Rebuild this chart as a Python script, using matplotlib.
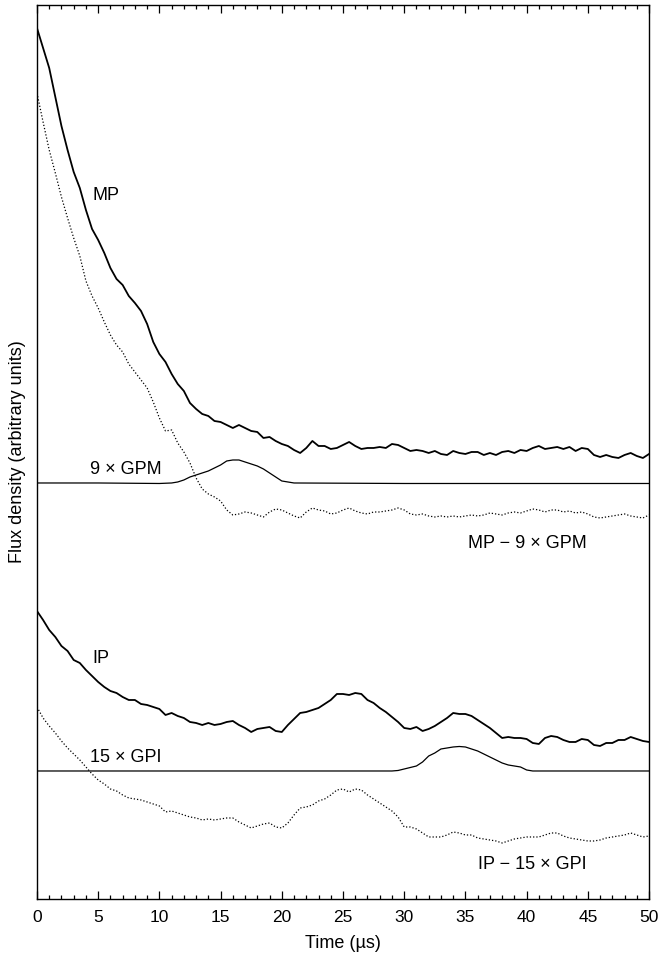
import numpy as np
import matplotlib
matplotlib.use('Agg')
import matplotlib.pyplot as plt
from matplotlib.ticker import MultipleLocator, NullLocator

plt.rcParams['font.family'] = ['Liberation Sans', 'DejaVu Sans']
plt.rcParams['font.size'] = 13

# time grid of the noisy traces, 0.5 us steps
t_trace = np.arange(0, 50.5, 0.5)

# flux density, arbitrary units (traces are stacked with offsets)
mp = [871, 851, 831, 802, 773, 749, 727, 711, 689, 670,
      659, 646, 631, 620, 614, 603, 596, 588, 575, 557,
      545, 537, 525, 515, 508, 496, 490, 485, 483, 478,
      477, 474, 471, 474, 471, 468, 467, 461, 462, 458,
      455, 453, 449, 446, 451, 458, 453, 453, 450, 451,
      454, 457, 453, 450, 451, 451, 452, 451, 455, 454,
      451, 448, 449, 448, 446, 448, 445, 444, 448, 446,
      445, 447, 447, 444, 446, 444, 447, 448, 446, 449,
      448, 451, 453, 450, 451, 452, 450, 452, 448, 451,
      450, 444, 442, 444, 442, 441, 444, 446, 443, 441,
      445]

mp_minus_gpm = [806, 777, 749, 726, 702, 681, 661, 643, 618, 603,
                591, 577, 564, 554, 547, 535, 527, 519, 511, 497,
                481, 468, 469, 456, 447, 436, 421, 410, 405, 402,
                398, 389, 384, 385, 387, 386, 384, 382, 387, 390,
                389, 386, 383, 381, 387, 391, 389, 388, 385, 386,
                389, 391, 388, 386, 385, 387, 387, 388, 389, 391,
                389, 385, 384, 385, 383, 382, 383, 382, 383, 382,
                383, 384, 383, 384, 386, 385, 384, 386, 387, 386,
                388, 390, 389, 387, 389, 389, 387, 388, 386, 387,
                385, 382, 381, 382, 383, 384, 385, 383, 382, 381,
                384]

ip = [288, 279, 269, 262, 253, 248, 239, 236, 229, 223,
      217, 212, 208, 206, 202, 199, 199, 195, 194, 192,
      190, 184, 186, 183, 181, 177, 176, 174, 176, 174,
      175, 177, 178, 174, 171, 167, 170, 171, 172, 168,
      167, 174, 180, 186, 187, 189, 191, 195, 199, 205,
      205, 204, 206, 205, 199, 196, 191, 187, 182, 177,
      171, 170, 172, 168, 170, 173, 177, 181, 186, 185,
      185, 183, 179, 175, 171, 166, 161, 162, 161, 161,
      160, 156, 155, 161, 163, 162, 159, 157, 157, 160,
      159, 154, 153, 156, 156, 159, 159, 162, 160, 158,
      157]

ip_minus_gpi = [192, 181, 173, 166, 158, 151, 145, 139, 132, 125,
                119, 115, 110, 108, 104, 101, 100, 99, 97, 95,
                93, 87, 88, 86, 84, 82, 81, 79, 80, 79,
                80, 81, 81, 77, 74, 71, 73, 75, 76, 72,
                71, 76, 84, 91, 92, 94, 98, 100, 104, 109,
                110, 107, 110, 109, 104, 100, 96, 92, 88, 82,
                72, 72, 70, 66, 62, 62, 62, 64, 67, 66,
                64, 64, 61, 60, 59, 58, 56, 58, 60, 61,
                62, 62, 62, 64, 66, 66, 63, 61, 60, 59,
                58, 58, 59, 61, 62, 63, 64, 66, 64, 62,
                63]

# smooth giant-pulse profiles (scaled)
t_gpm = [0, 5, 10, 11, 11.5, 12, 12.5, 13, 13.5, 14, 14.5, 15, 15.5, 16, 16.5,
         17, 17.5, 18, 18.5, 19, 19.5, 20, 20.5, 21, 30, 50]
gpm9 = [416, 416, 415.5, 416, 417, 419, 422, 424, 426, 428, 431, 434, 438, 439, 439,
        437, 435, 433, 430, 426, 422, 418, 417, 416, 415.5, 415.5]

t_gpi = [0, 10, 20, 29, 29.5, 30, 30.5, 31, 31.5, 32, 32.5, 33, 33.5, 34, 34.5,
         35, 35.5, 36, 36.5, 37, 37.5, 38, 38.5, 39, 39.5, 40, 40.5, 50]
gpi15 = [128, 128, 128, 128, 128.5, 130, 131.5, 133, 137, 143, 146, 150, 151, 152, 152.5,
         152, 150, 148, 145, 142, 139, 136, 134, 133, 132, 129, 128, 128]

fig = plt.figure(figsize=(6.6, 9.58), dpi=100)
ax = fig.add_axes([0.056, 0.0616, 0.9274, 0.9332])

dots = (0, (1, 1.6))
ax.plot(t_trace, mp, color='black', lw=1.3)
ax.plot(t_trace, mp_minus_gpm, color='black', lw=0.9, linestyle=dots)
ax.plot(t_gpm, gpm9, color='black', lw=0.9)
ax.plot(t_trace, ip, color='black', lw=1.3)
ax.plot(t_trace, ip_minus_gpi, color='black', lw=0.9, linestyle=dots)
ax.plot(t_gpi, gpi15, color='black', lw=0.9)

ax.text(4.5, 703, 'MP', va='center', ha='left')
ax.text(10.2, 429, '9 \u00d7 GPM', va='center', ha='right')
ax.text(44.9, 355, 'MP \u2212 9 \u00d7 GPM', va='center', ha='right')
ax.text(4.5, 240, 'IP', va='center', ha='left')
ax.text(10.2, 141, '15 \u00d7 GPI', va='center', ha='right')
ax.text(44.9, 34, 'IP \u2212 15 \u00d7 GPI', va='center', ha='right')

ax.set_xlim(0, 50)
ax.set_ylim(0, 894)
ax.xaxis.set_major_locator(MultipleLocator(5))
ax.xaxis.set_minor_locator(MultipleLocator(1))
ax.yaxis.set_major_locator(NullLocator())
ax.tick_params(axis='x', which='both', direction='in', top=True, bottom=True,
               pad=8, labelsize=12.5)
ax.tick_params(axis='x', which='major', length=6, width=0.9)
ax.tick_params(axis='x', which='minor', length=3, width=0.9)
for s in ax.spines.values():
    s.set_linewidth(1.0)

ax.set_xlabel('Time (\u00b5s)', labelpad=7)
ax.set_ylabel('Flux density (arbitrary units)', labelpad=8)

fig.savefig('out.png', dpi=100)
